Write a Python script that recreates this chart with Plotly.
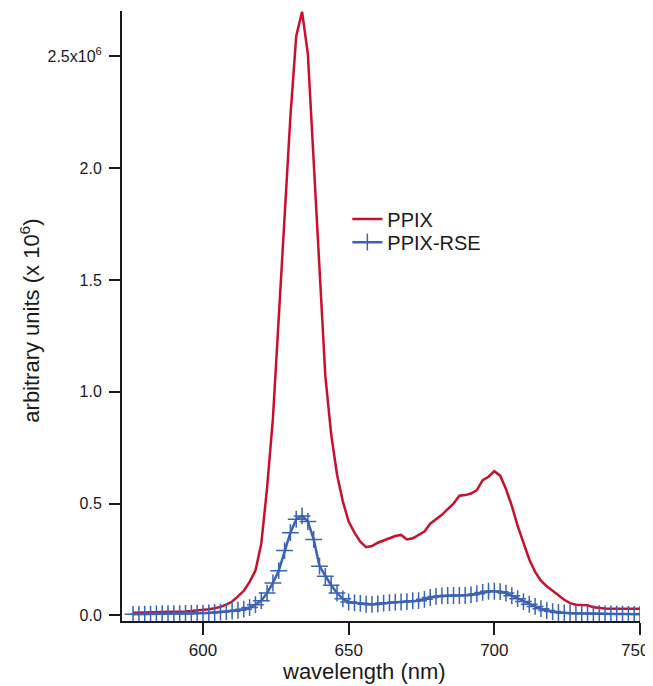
import plotly.graph_objects as go

wavelength = [576, 578, 580, 582, 584, 586, 588, 590, 592, 594, 596, 598, 600, 602, 604, 606, 608, 610,
              612, 614, 616, 618, 620, 622, 624, 626, 628, 630, 632, 634, 636, 638, 640, 642, 644, 646,
              648, 650, 652, 654, 656, 658, 660, 662, 664, 666, 668, 670, 672, 674, 676, 678, 680, 682,
              684, 686, 688, 690, 692, 694, 696, 698, 700, 702, 704, 706, 708, 710, 712, 714, 716, 718,
              720, 722, 724, 726, 728, 730, 732, 734, 736, 738, 740, 742, 744, 746, 748, 750]

# values in units of 10^6
ppix = [0.012, 0.012, 0.013, 0.014, 0.015, 0.015, 0.016, 0.016, 0.017, 0.018, 0.020, 0.022, 0.025, 0.028,
        0.032, 0.038, 0.048, 0.062, 0.085, 0.11, 0.15, 0.20, 0.32, 0.57, 0.88, 1.35, 1.76, 2.23, 2.59,
        2.70, 2.51, 2.03, 1.51, 1.07, 0.81, 0.63, 0.51, 0.42, 0.37, 0.33, 0.305, 0.31, 0.325, 0.335,
        0.345, 0.355, 0.36, 0.34, 0.345, 0.36, 0.375, 0.41, 0.43, 0.45, 0.475, 0.50, 0.535, 0.538,
        0.545, 0.56, 0.605, 0.62, 0.645, 0.625, 0.565, 0.49, 0.40, 0.32, 0.25, 0.195, 0.155, 0.13,
        0.11, 0.09, 0.07, 0.055, 0.048, 0.046, 0.045, 0.036, 0.032, 0.031, 0.03, 0.03, 0.03, 0.03,
        0.03, 0.03]

ppix_rse = [0.005, 0.005, 0.006, 0.006, 0.007, 0.008, 0.008, 0.008, 0.008, 0.009, 0.009, 0.010, 0.010,
            0.011, 0.013, 0.015, 0.017, 0.019, 0.023, 0.028, 0.035, 0.048, 0.066, 0.10, 0.145, 0.20,
            0.29, 0.37, 0.43, 0.445, 0.42, 0.34, 0.22, 0.175, 0.135, 0.10, 0.074, 0.06, 0.056, 0.054,
            0.05, 0.049, 0.052, 0.055, 0.057, 0.059, 0.06, 0.062, 0.065, 0.066, 0.072, 0.08, 0.085,
            0.087, 0.089, 0.089, 0.089, 0.089, 0.092, 0.097, 0.103, 0.108, 0.108, 0.106, 0.10, 0.088,
            0.075, 0.062, 0.05, 0.04, 0.03, 0.022, 0.017, 0.013, 0.011, 0.01, 0.009, 0.009, 0.008,
            0.008, 0.008, 0.007, 0.007, 0.006, 0.006, 0.005, 0.005, 0.005]

y_tickvals = [0.0, 0.5, 1.0, 1.5, 2.0, 2.5]
y_ticktext = ["0.0", "0.5", "1.0", "1.5", "2.0", "2.5x10<sup>6</sup>"]
x_tickvals = [600, 650, 700, 750]
x_ticktext = ["600", "650", "700", "750\u00a0\u00a0"]
x_title = "wavelength (nm)"
y_title = "arbitrary units (x 10<sup>6</sup>)"

RED = "#C8102E"
BLUE = "#3A62B5"
FONT = "Liberation Sans, Arial, sans-serif"

fig = go.Figure()
fig.add_trace(go.Scatter(x=wavelength, y=ppix, mode="lines", name="PPIX",
                         line=dict(color=RED, width=2.5), legend="legend"))
fig.add_trace(go.Scatter(x=wavelength, y=ppix_rse, mode="lines+markers", name="PPIX-RSE",
                         line=dict(color=BLUE, width=2.5),
                         marker=dict(symbol="cross-thin", size=12, color=BLUE,
                                     line=dict(color=BLUE, width=1.5)),
                         legend="legend2"))

legend_style = dict(xanchor="left", yanchor="middle", font=dict(size=20, family=FONT),
                    bgcolor="rgba(0,0,0,0)", itemwidth=30)

# the page body adds an 8 px offset, so the figure is 8 px smaller and margins are adjusted
fig.update_layout(
    width=645, height=678,
    margin=dict(l=114, r=13, t=3, b=65),
    paper_bgcolor="white", plot_bgcolor="white",
    font=dict(family=FONT, color="#1a1a1a", size=16),
    showlegend=True,
    legend=dict(x=0.435, y=0.659, **legend_style),
    legend2=dict(x=0.435, y=0.621, **legend_style),
    annotations=[
        dict(text=x_title, xref="paper", yref="paper", x=0.467, y=-0.083,
             xanchor="center", yanchor="middle", showarrow=False,
             font=dict(size=22, family=FONT, color="#1a1a1a")),
        dict(text=y_title, xref="paper", yref="paper", x=-0.178, y=0.492,
             xanchor="center", yanchor="middle", showarrow=False, textangle=-90,
             font=dict(size=22, family=FONT, color="#1a1a1a")),
    ],
)
fig.update_xaxes(range=[572.2, 750], tickvals=x_tickvals, ticktext=x_ticktext,
                 showgrid=False, zeroline=False,
                 automargin=False, ticklabeloverflow="allow", ticklabelstandoff=1,
                 showline=True, linecolor="#1a1a1a", linewidth=2,
                 ticks="outside", ticklen=12, tickwidth=2, tickcolor="#1a1a1a",
                 tickfont=dict(size=17))
fig.update_yaxes(range=[-0.025, 2.703], tickvals=y_tickvals, ticktext=y_ticktext,
                 showgrid=False, zeroline=False, automargin=False, ticklabelstandoff=4,
                 showline=True, linecolor="#1a1a1a", linewidth=2,
                 ticks="outside", ticklen=11, tickwidth=2, tickcolor="#1a1a1a",
                 tickfont=dict(size=16))

fig.write_html("out.html")
